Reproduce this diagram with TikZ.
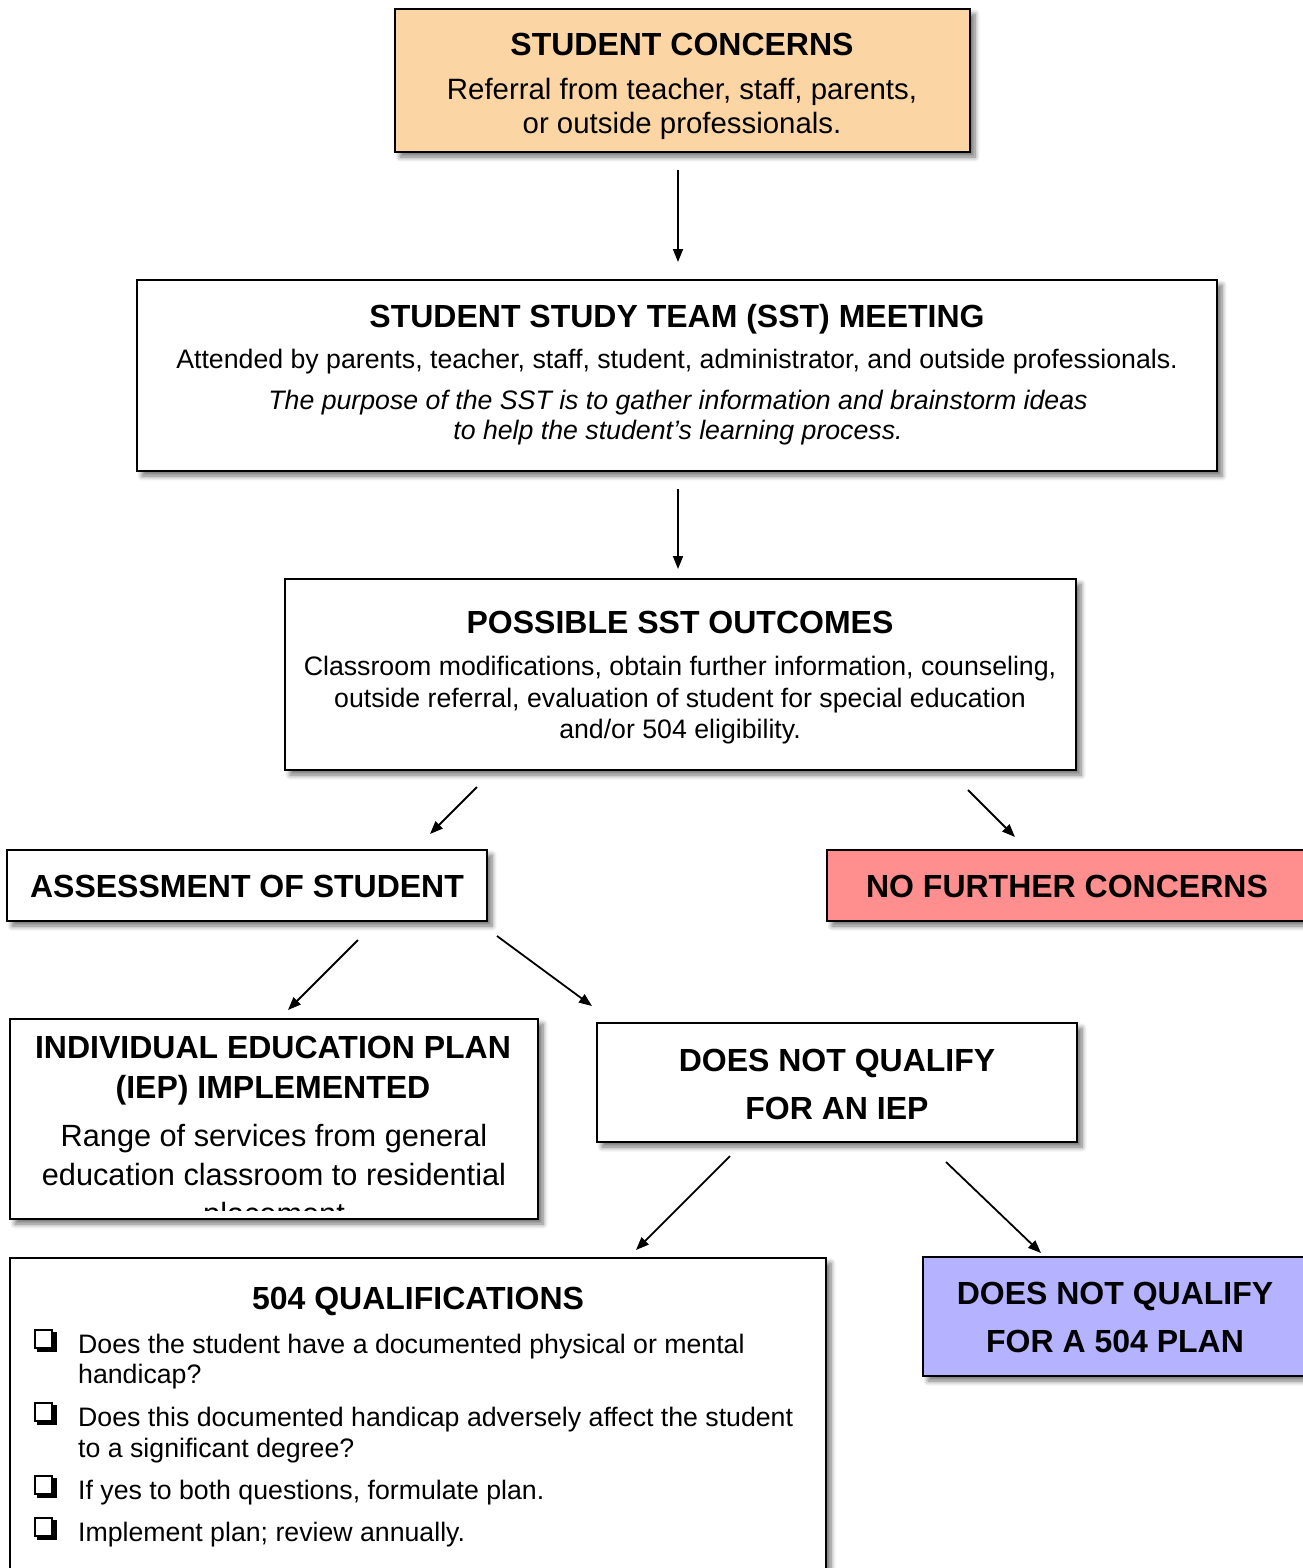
\documentclass[tikz,border=0pt]{standalone}
\usepackage{fontspec}
\setmainfont{Liberation Sans}
\usetikzlibrary{arrows.meta,shadows.blur}
\definecolor{peach}{RGB}{252,213,165}
\definecolor{salmon}{RGB}{255,143,143}
\definecolor{lilac}{RGB}{181,178,255}
\newcommand\chkbox[2]{%
  \draw[line width=2pt] (35,#1-23) rectangle (52,#1-5);
  \fill (37,#1-6) rectangle (57,#1-1);
  \fill (51,#1-21) rectangle (57,#1-1);
  \coordinate (#2) at (35,#1-23);}
\begin{document}
\begin{tikzpicture}[x=1pt,y=-1pt,
  box/.style={draw=black,line width=2pt,rectangle,inner sep=0pt,fill=white,
    blur shadow={shadow xshift=5pt,shadow yshift=-5pt,shadow blur steps=7,shadow blur radius=5pt,shadow opacity=55}},
  hd/.style={font=\fontsize{32}{36}\selectfont\bfseries,anchor=base,inner sep=0pt},
  bd/.style={font=\fontsize{26.7}{30}\selectfont,anchor=base,inner sep=0pt},
  ref/.style={font=\fontsize{29.4}{34}\selectfont,anchor=base,inner sep=0pt},
  bdi/.style={font=\fontsize{26.7}{30}\selectfont\itshape,anchor=base,inner sep=0pt},
  big/.style={font=\fontsize{30.7}{34}\selectfont,anchor=base,inner sep=0pt},
  li/.style={font=\fontsize{26.7}{30}\selectfont,anchor=base west,inner sep=0pt},
  arr/.style={line width=1.8pt,-{Triangle[length=13pt,width=10pt]}}]
\useasboundingbox (0,0) rectangle (1303,1568);
\clip (0,0) rectangle (1303,1568);

% boxes
\node[box,fill=peach,minimum width=575pt,minimum height=143pt] (sc) at (682.5,80.5) {};
\node[box,minimum width=1080pt,minimum height=191pt] (sst) at (677,375.5) {};
\node[box,minimum width=791pt,minimum height=191pt] (out) at (680.5,674.5) {};
\node[box,minimum width=480pt,minimum height=71pt] (ass) at (247,885.5) {};
\node[box,fill=salmon,minimum width=483pt,minimum height=71pt] (nfc) at (1068.5,885.5) {};
\node[box,minimum width=528pt,minimum height=200pt] (iep) at (274,1119) {};
\node[box,minimum width=480pt,minimum height=119pt] (dnq) at (837,1082.5) {};
\node[box,minimum width=816pt,minimum height=317pt] (q504) at (418,1416.5) {};
\node[box,fill=lilac,minimum width=387pt,minimum height=119pt] (n504) at (1116.5,1316.5) {};

% texts
\node[hd] (t1) at (682,56) {STUDENT CONCERNS};
\node[ref] (t2) at (682,100) {Referral from teacher, staff, parents,};
\node[ref] (t3) at (682,133) {or outside professionals.};

\node[hd] (t4) at (677,327) {STUDENT STUDY TEAM (SST) MEETING};
\node[bd] (t5) at (677,368) {Attended by parents, teacher, staff, student, administrator, and outside professionals.};
\node[bdi] (t6) at (678,409) {The purpose of the SST is to gather information and brainstorm ideas};
\node[bdi] (t7) at (678,439) {to help the student’s learning process.};

\node[hd] (t8) at (680,633) {POSSIBLE SST OUTCOMES};
\node[bd] (t9) at (680,675) {Classroom modifications, obtain further information, counseling,};
\node[bd] (t10) at (680,707) {outside referral, evaluation of student for special education};
\node[bd] (t11) at (680,738) {and/or 504 eligibility.};

\node[hd] (t12) at (247,897) {ASSESSMENT OF STUDENT};
\node[hd] (t13) at (1067,897) {NO FURTHER CONCERNS};

\node[hd] (t14) at (273,1058) {INDIVIDUAL EDUCATION PLAN};
\node[hd] (t15) at (273,1098) {(IEP) IMPLEMENTED};
\begin{scope}
\clip (11,1020) rectangle (537,1210);
\node[big] (t16) at (274,1146) {Range of services from general};
\node[big] (t17) at (274,1185) {education classroom to residential};
\node[big] (t18) at (274,1224) {placement};
\end{scope}

\node[hd] (t19) at (837,1071) {DOES NOT QUALIFY};
\node[hd] (t20) at (837,1119) {FOR AN IEP};

\node[hd] (t21) at (418,1309) {504 QUALIFICATIONS};
\chkbox{1353}{c1}
\chkbox{1426}{c2}
\chkbox{1499}{c3}
\chkbox{1541}{c4}
\node[li] (t22) at (78,1353) {Does the student have a documented physical or mental};
\node[li] (t23) at (78,1383) {handicap?};
\node[li] (t24) at (78,1426) {Does this documented handicap adversely affect the student};
\node[li] (t25) at (78,1457) {to a significant degree?};
\node[li] (t26) at (78,1499) {If yes to both questions, formulate plan.};
\node[li] (t27) at (78,1541) {Implement plan; review annually.};

\node[hd] (t28) at (1115,1304) {DOES NOT QUALIFY};
\node[hd] (t29) at (1115,1352) {FOR A 504 PLAN};

% connectors
\coordinate (a1s) at (678,170); \coordinate (a1e) at (678,262);
\coordinate (a2s) at (678,489); \coordinate (a2e) at (678,569);
\coordinate (a3s) at (477,787); \coordinate (a3e) at (430,834);
\coordinate (a4s) at (968,790); \coordinate (a4e) at (1015,837);
\coordinate (a5s) at (358,940); \coordinate (a5e) at (288,1010);
\coordinate (a6s) at (497,936); \coordinate (a6e) at (592,1006);
\coordinate (a7s) at (730,1156); \coordinate (a7e) at (636,1250);
\coordinate (a8s) at (946,1162); \coordinate (a8e) at (1041,1253);
\draw[arr] (a1s) -- (a1e);
\draw[arr] (a2s) -- (a2e);
\draw[arr] (a3s) -- (a3e);
\draw[arr] (a4s) -- (a4e);
\draw[arr] (a5s) -- (a5e);
\draw[arr] (a6s) -- (a6e);
\draw[arr] (a7s) -- (a7e);
\draw[arr] (a8s) -- (a8e);
\end{tikzpicture}
\end{document}
